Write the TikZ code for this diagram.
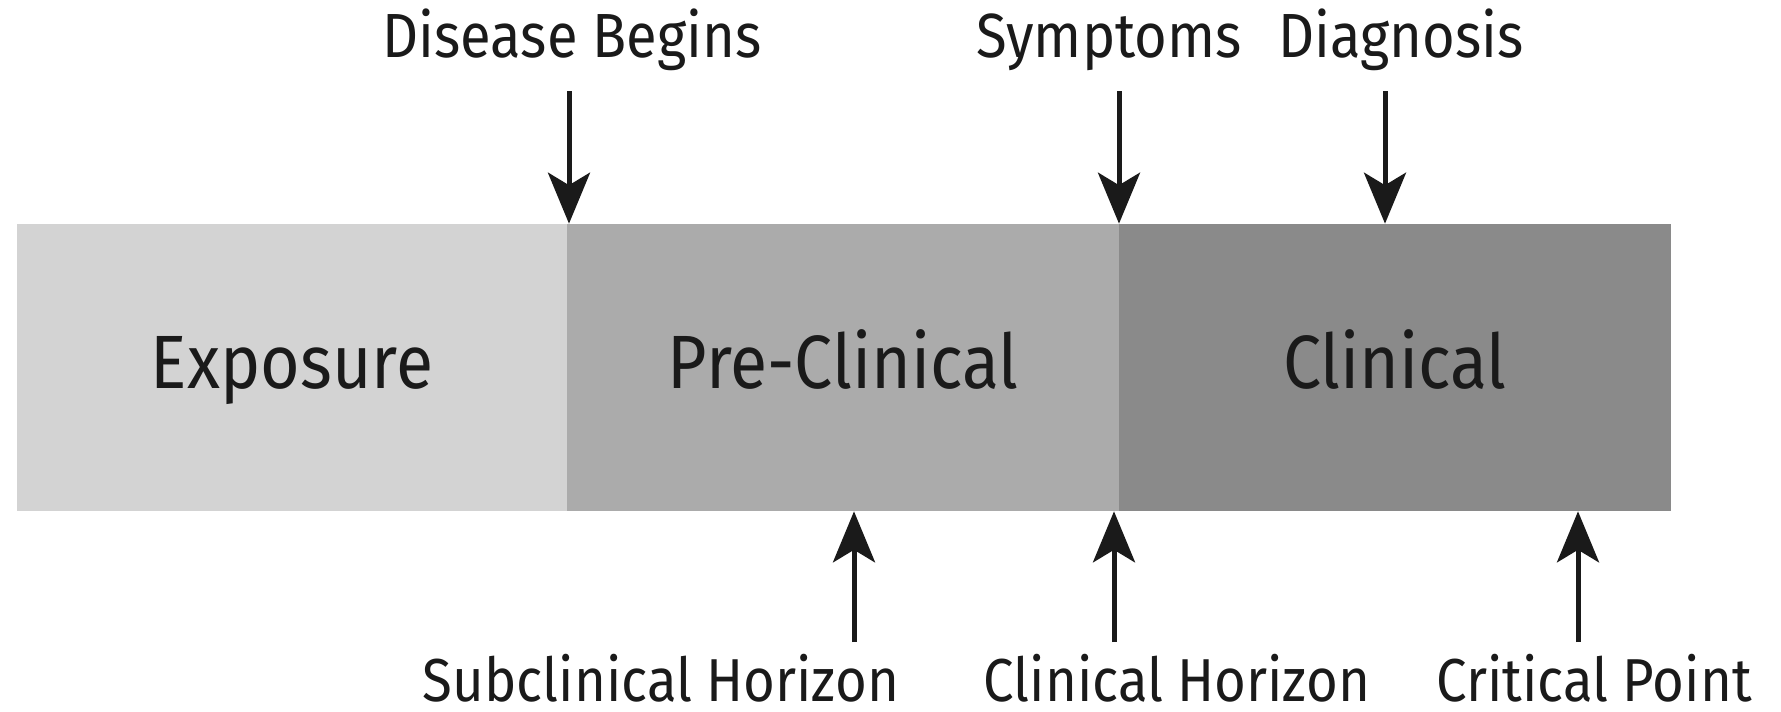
\documentclass[tikz,border=0pt]{standalone}
\usepackage{fontspec}
\setmainfont[FakeStretch=0.9]{Fira Sans}
\usepackage{xcolor}
\usetikzlibrary{arrows.meta}

\definecolor{expofill}{HTML}{D3D3D3}
\definecolor{preclinfill}{HTML}{ABABAB}
\definecolor{clinfill}{HTML}{8A8A8A}
\definecolor{ink}{HTML}{1A1A1A}

\tikzset{
  phase/.style={inner sep=0pt, minimum height=5.74cm, text height=0.84cm, text depth=0cm,
    text=ink, font=\fontsize{43}{48}\selectfont},
  marker/.style={inner sep=0pt, anchor=base, text=ink, font=\fontsize{35.5}{40}\selectfont},
  horizon/.style={marker, font=\fontsize{34.5}{39}\selectfont},
  pointer/.style={draw=ink, line width=0.1cm, -{Stealth[length=1.02cm, width=0.84cm, inset=0.25cm]}}
}

\begin{document}
\begin{tikzpicture}[x=0.02cm, y=-0.02cm]
    \useasboundingbox (0,0) rectangle (1781,711);
    % the three phases
    \node[phase, fill=expofill, minimum width=11cm] (expo) at (292,367.5) {Exposure};
    \node[phase, fill=preclinfill, minimum width=11.04cm] (preclin) at (843,367.5) {Pre-Clinical};
    \node[phase, fill=clinfill, minimum width=11.04cm] (clin) at (1395,367.5) {Clinical};
    % events above
    \node[marker] (begins) at (572,57) {Disease Begins};
    \node[marker] (sympt) at (1109,57) {Symptoms};
    \node[marker] (diagn) at (1401,57) {Diagnosis};
    \coordinate (beginsarr) at (569,91);
    \coordinate (symptarr) at (1119,91);
    \coordinate (diagnarr) at (1385,91);
    \draw[pointer] (beginsarr) -- (beginsarr |- preclin.north);
    \draw[pointer] (symptarr) -- (symptarr |- clin.north);
    \draw[pointer] (diagnarr) -- (diagnarr |- clin.north);
    % horizons below
    \node[horizon] (subhor) at (661,701) {Subclinical Horizon};
    \node[horizon] (clinhor) at (1177,701) {Clinical Horizon};
    \node[horizon] (critpt) at (1594,701) {Critical Point};
    \coordinate (subhorarr) at (854,642);
    \coordinate (clinhorarr) at (1114,642);
    \coordinate (critptarr) at (1578,642);
    \draw[pointer] (subhorarr) -- (subhorarr |- preclin.south);
    \draw[pointer] (clinhorarr) -- (clinhorarr |- clin.south);
    \draw[pointer] (critptarr) -- (critptarr |- clin.south);
  \end{tikzpicture}
\end{document}
